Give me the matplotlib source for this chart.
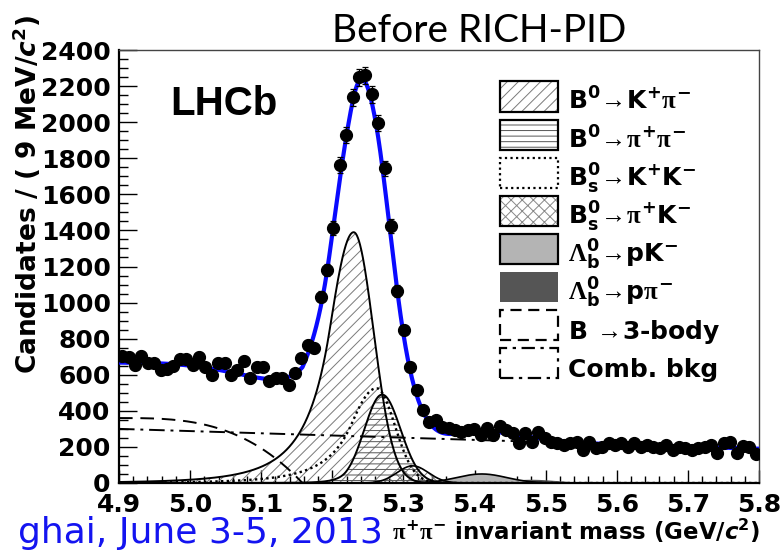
import numpy as np
import matplotlib
matplotlib.use('Agg')
import matplotlib.pyplot as plt
from matplotlib.patches import Rectangle

plt.rcParams['font.family'] = ['DejaVu Sans']
plt.rcParams['font.weight'] = 'bold'
plt.rcParams['mathtext.fontset'] = 'custom'
plt.rcParams['mathtext.default'] = 'rm'
plt.rcParams['mathtext.rm'] = 'DejaVu Sans:bold'
plt.rcParams['mathtext.bf'] = 'DejaVu Sans:bold'
plt.rcParams['mathtext.it'] = 'Liberation Serif'
plt.rcParams['mathtext.cal'] = 'Liberation Serif'
plt.rcParams['mathtext.sf'] = 'DejaVu Sans:bold:oblique'
plt.rcParams['hatch.linewidth'] = 0.7

W, H = 782, 550

# 100 bins of 9 MeV/c^2
MASS_LO, MASS_HI, NBINS = 4.9, 5.8, 100

counts = [
    704, 700, 654, 704, 663, 663, 626, 630, 648, 686,
    686, 654, 700, 641, 599, 667, 667, 599, 626, 678,
    580, 645, 645, 567, 580, 580, 543, 608, 691, 765,
    747, 1033, 1181, 1412, 1763, 1929, 2138, 2250, 2260, 2155,
    1997, 1744, 1425, 1066, 848, 645, 515, 405, 340, 349,
    312, 303, 294, 284, 294, 298, 266, 307, 266, 318,
    294, 275, 224, 275, 229, 284, 248, 229, 220, 211,
    220, 229, 183, 229, 192, 201, 220, 211, 220, 201,
    220, 201, 211, 201, 192, 211, 183, 201, 192, 183,
    192, 201, 211, 168, 220, 229, 168, 205, 201, 161,
]

# fit components: mean, sigma_left, sigma_right, alpha, n, peak height
kpi = [5.230, 0.034, 0.028, 1.0, 5.0, 1390]
pipi = [5.270, 0.025, 0.026, 2.0, 5.0, 490]
kk = [5.262, 0.036, 0.026, 1.0, 5.0, 525]
# gaussian components: mean, sigma, peak height
pik = [5.313, 0.022, 95]
lb_pk = [5.410, 0.035, 50]
lb_ppi = [5.480, 0.035, 18]
# partially reconstructed: height at 4.9, end point, shape power
three_body = [360, 5.158, 3.0]
# combinatorial: height at 4.9 and at 5.8
comb = [300, 190]


def crystal_ball(m, mean, sig_l, sig_r, alpha, n, peak):
    t = np.where(m < mean, (m - mean) / sig_l, (m - mean) / sig_r)
    a = (n / alpha) ** n * np.exp(-0.5 * alpha ** 2)
    b = n / alpha - alpha
    tail = a * np.maximum(b - t, 1e-6) ** (-n)
    return peak * np.where(t < -alpha, tail, np.exp(-0.5 * t * t))


def gauss(m, mean, sigma, peak):
    return peak * np.exp(-0.5 * ((m - mean) / sigma) ** 2)


def edge(m, height, end, power):
    x = np.clip((m - MASS_LO) / (end - MASS_LO), 0, 1)
    return height * (1 - x ** power)


def linear(m, lo, hi):
    return lo + (hi - lo) * (m - MASS_LO) / (MASS_HI - MASS_LO)


edges = np.linspace(MASS_LO, MASS_HI, NBINS + 1)
centres = 0.5 * (edges[1:] + edges[:-1])
counts = np.array(counts, dtype=float)

m = np.linspace(MASS_LO, MASS_HI, 1801)
y_kpi = crystal_ball(m, *kpi)
y_pipi = crystal_ball(m, *pipi)
y_kk = crystal_ball(m, *kk)
y_pik = gauss(m, *pik)
y_pk = gauss(m, *lb_pk)
y_ppi = gauss(m, *lb_ppi)
y_3b = edge(m, *three_body)
y_comb = linear(m, *comb)
y_tot = y_kpi + y_pipi + y_kk + y_pik + y_pk + y_ppi + y_3b + y_comb

fig = plt.figure(figsize=(W / 100, H / 100), dpi=100)
ax = fig.add_axes([119 / W, 1 - 483 / H, 640 / W, 433 / H])

# filled components
ax.fill_between(m, 0, y_ppi, facecolor='#555555', edgecolor='none', zorder=2)
ax.fill_between(m, 0, y_pk, facecolor='#b4b4b4', edgecolor='none', zorder=2)
ax.plot(m, y_pk, color='black', lw=1.2, zorder=3)
ax.fill_between(m, 0, y_pik, facecolor='none', edgecolor='#777777',
                hatch='xxx', linewidth=0, zorder=2)
ax.plot(m, y_pik, color='black', lw=1.2, zorder=3)
ax.fill_between(m, 0, y_kpi, facecolor='none', edgecolor='#7a7a7a',
                hatch='///', linewidth=0, zorder=2)
ax.plot(m, y_kpi, color='black', lw=1.4, zorder=3)
ax.fill_between(m, 0, y_pipi, facecolor='none', edgecolor='#555555',
                hatch='---', linewidth=0, zorder=2)
ax.plot(m, y_pipi, color='black', lw=1.4, zorder=3)

# line-only components
ax.plot(m, y_kk, color='black', lw=1.7, ls=(0, (1, 1.4)), zorder=3)
ax.plot(m, y_3b, color='black', lw=1.4, ls=(0, (7, 4)), zorder=3)
ax.plot(m, y_comb, color='black', lw=1.4, ls=(0, (8, 3, 1.5, 3)), zorder=3)

# total fit and data
ax.plot(m, y_tot, color='#0a0aff', lw=3.0, zorder=4)
ax.errorbar(centres, counts, yerr=np.sqrt(counts), fmt='o', color='black',
            ms=8.5, elinewidth=0.9, capsize=2.5, capthick=0.9, zorder=5)

ax.set_xlim(MASS_LO, MASS_HI)
ax.set_ylim(0, 2400)
ax.set_xticks(np.arange(4.9, 5.81, 0.1))
ax.set_xticklabels(['%.1f' % v for v in np.arange(4.9, 5.81, 0.1)])
ax.set_xticks(np.arange(4.9, 5.801, 0.02), minor=True)
ax.set_yticks(np.arange(0, 2401, 200))
ax.set_yticks(np.arange(0, 2401, 50), minor=True)
ax.tick_params(axis='both', which='both', direction='in', top=False, right=False,
               width=1.0, labelsize=18)
ax.tick_params(axis='y', which='major', length=13, pad=6)
ax.tick_params(axis='y', which='minor', length=6.5)
ax.tick_params(axis='x', which='major', length=9.5, pad=7)
ax.tick_params(axis='x', which='minor', length=5)
for lab in ax.get_xticklabels() + ax.get_yticklabels():
    lab.set_fontweight('bold')
for side in ['left', 'bottom']:
    ax.spines[side].set_linewidth(1.6)
for side in ['top', 'right']:
    ax.spines[side].set_linewidth(1.0)
    ax.spines[side].set_color('#444444')

# labels
fig.text(27 / W, 1 - 15 / H, r'Candidates / ( 9 MeV/$\mathsf{c}^{2}$)',
         rotation=90, ha='center', va='top', fontsize=19, fontweight='bold')
fig.text(760 / W, 1 - 540 / H,
         r'$\mathit{\pi}^{+}\mathit{\pi}^{-}$ invariant mass (GeV/$\mathsf{c}^{2}$)',
         ha='right', va='baseline', fontsize=16.5, fontweight='bold')
fig.text(479 / W, 1 - 42 / H, 'Before RICH-PID', ha='center', va='baseline',
         fontsize=28, fontweight='normal', family=['Lato', 'DejaVu Sans'])
fig.text(383 / W, 1 - 543 / H, 'ghai, June 3-5, 2013', ha='right', va='baseline',
         fontsize=26, fontweight='normal', color='#1414f0', family=['DejaVu Sans'])
fig.text(170 / W, 1 - 115 / H, 'LHCb', ha='left', va='baseline',
         fontsize=29, fontweight='bold', family=['Liberation Sans'])

# legend
arrow = r'\!\mathcal{\rightarrow}\!'
legend_labels = [
    r'$B^{0}' + arrow + r'K^{+}\mathit{\pi}^{-}$',
    r'$B^{0}' + arrow + r'\mathit{\pi}^{+}\mathit{\pi}^{-}$',
    r'$B_{s}^{0}' + arrow + r'K^{+}K^{-}$',
    r'$B_{s}^{0}' + arrow + r'\mathit{\pi}^{+}K^{-}$',
    r'$\mathcal{\Lambda}_{b}^{0}' + arrow + r'pK^{-}$',
    r'$\mathcal{\Lambda}_{b}^{0}' + arrow + r'p\mathit{\pi}^{-}$',
    r'B $' + arrow + r'$3-body',
    'Comb. bkg',
]
swatches = [
    dict(face='none', hatch='///', hcolor='#7a7a7a', ls='-'),
    dict(face='none', hatch='---', hcolor='#555555', ls='-'),
    dict(face='none', hatch=None, hcolor=None, ls=(0, (1, 1.5))),
    dict(face='none', hatch='xxx', hcolor='#888888', ls='-'),
    dict(face='#b4b4b4', hatch=None, hcolor=None, ls='-'),
    dict(face='#555555', hatch=None, hcolor=None, ls=None),
    dict(face='none', hatch=None, hcolor=None, ls=(0, (5, 3))),
    dict(face='none', hatch=None, hcolor=None, ls=(0, (6, 2.5, 1.5, 2.5))),
]
for k, (label, sw) in enumerate(zip(legend_labels, swatches)):
    top = 81.5 + 38.1 * k
    x0, y0 = 500 / W, 1 - (top + 30) / H
    w, h = 58 / W, 30 / H
    if sw['face'] != 'none':
        fig.add_artist(Rectangle((x0, y0), w, h, transform=fig.transFigure,
                                 facecolor=sw['face'], edgecolor='none'))
    if sw['hatch']:
        fig.add_artist(Rectangle((x0, y0), w, h, transform=fig.transFigure,
                                 facecolor='none', edgecolor=sw['hcolor'],
                                 hatch=sw['hatch'], linewidth=0))
    if sw['ls'] is not None:
        fig.add_artist(Rectangle((x0, y0), w, h, transform=fig.transFigure,
                                 facecolor='none', edgecolor='black',
                                 linewidth=1.6, linestyle=sw['ls']))
    fig.text(568 / W, 1 - (top + 28.5) / H, label, ha='left', va='baseline',
             fontsize=18, fontweight='bold')

fig.savefig('out.png', dpi=100)
